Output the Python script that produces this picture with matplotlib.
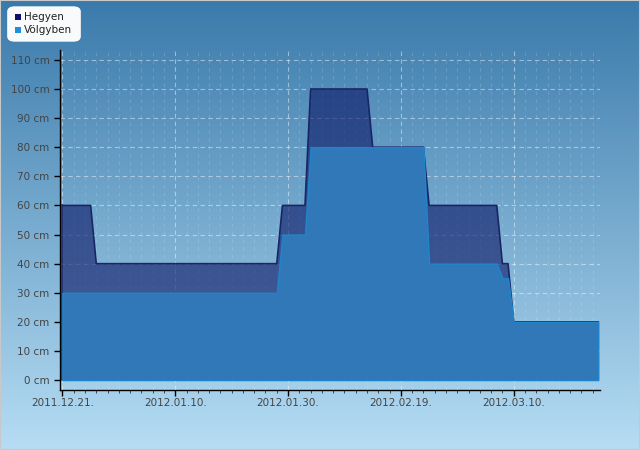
import matplotlib
matplotlib.use("Agg")
import matplotlib.pyplot as plt
import matplotlib.dates as mdates
from matplotlib.patches import FancyBboxPatch, Rectangle
import numpy as np
import datetime as dt

# breakpoints of the two series (cm)
hegyen_dates = ["2011-12-21", "2011-12-26", "2011-12-27", "2012-01-28", "2012-01-29",
                "2012-02-02", "2012-02-03", "2012-02-13", "2012-02-14", "2012-02-23",
                "2012-02-24", "2012-03-07", "2012-03-08", "2012-03-09", "2012-03-10",
                "2012-03-25"]
hegyen_cm = [60, 60, 40, 40, 60, 60, 100, 100, 80, 80, 60, 60, 40, 40, 20, 20]

volgy_dates = ["2011-12-21", "2012-01-28", "2012-01-29", "2012-02-02", "2012-02-03",
               "2012-02-23", "2012-02-24", "2012-03-07", "2012-03-08", "2012-03-09",
               "2012-03-10", "2012-03-25"]
volgy_cm = [30, 30, 50, 50, 80, 80, 40, 40, 35, 35, 20, 20]

tick_dates = ["2011-12-21", "2012-01-10", "2012-01-30", "2012-02-19", "2012-03-10"]
y_ticks = [0, 10, 20, 30, 40, 50, 60, 70, 80, 90, 100, 110]
series_names = ["Hegyen", "Völgyben"]


def to_num(dates):
    return [mdates.date2num(dt.datetime.strptime(d, "%Y-%m-%d")) for d in dates]


fig = plt.figure(figsize=(6.4, 4.5), dpi=100)

# background gradient over the whole figure
bg = fig.add_axes([0, 0, 1, 1], zorder=0)
top = np.array([58, 122, 171]) / 255
bot = np.array([182, 221, 244]) / 255
t = np.linspace(0, 1, 256)[:, None]
grad = (top * (1 - t) + bot * t)[:, None, :]
bg.imshow(grad, aspect="auto", extent=[0, 1, 0, 1])
bg.set_axis_off()
fig.patches.append(Rectangle((0, 0), 1, 1, transform=fig.transFigure, fill=False,
                             edgecolor="#c8c8c8", lw=1.5, zorder=10))

ax = fig.add_axes([60 / 640, 1 - 390 / 450, 540 / 640, 340 / 450], zorder=1)
ax.patch.set_alpha(0)

hx = to_num(hegyen_dates)
vx = to_num(volgy_dates)
ax.fill_between(hx, 0, hegyen_cm, facecolor="#0a1464", alpha=0.6, lw=0, zorder=2)
ax.plot(hx, hegyen_cm, color="#1a2566", lw=1.2, zorder=3)
ax.plot([hx[0], hx[0]], [0, hegyen_cm[0]], color="#1a2566", lw=1.2, zorder=3)
ax.fill_between(vx, 0, volgy_cm, facecolor="#3078b8", edgecolor="#1f86cc", lw=1, zorder=4)

x0 = mdates.date2num(dt.datetime(2011, 12, 21))
ax.set_xlim(x0 - 0.43, x0 + 95.3)
ax.set_ylim(-3.4, 113.4)

ax.set_yticks(y_ticks)
ax.set_yticklabels([f"{v} cm" for v in y_ticks])
ax.set_xticks(to_num(tick_dates))
ax.set_xticklabels([d.replace("-", ".") + "." for d in tick_dates])
ax.set_xticks(np.arange(x0 - 0.0, x0 + 95.5, 2), minor=True)

ax.tick_params(axis="both", labelsize=7.5, labelcolor="#444444", color="black",
               length=4, width=1, direction="out")
ax.tick_params(axis="x", pad=2)
ax.tick_params(axis="x", which="minor", length=2, width=0.6, color="#333333")
for s in ["top", "right"]:
    ax.spines[s].set_visible(False)
for s in ["left", "bottom"]:
    ax.spines[s].set_color("black")
    ax.spines[s].set_linewidth(1)

ax.grid(True, which="major", color="white", alpha=0.45, lw=0.8, ls=(0, (4, 3)), zorder=1)
ax.grid(True, which="minor", axis="x", color="white", alpha=0.15, lw=0.8, ls=(0, (3, 4)), zorder=1)
ax.set_axisbelow(True)

# legend box
fig.patches.append(FancyBboxPatch((11 / 640, 1 - 39 / 450), 66 / 640, 30 / 450,
                                  boxstyle="round,pad=0.006,rounding_size=0.012",
                                  transform=fig.transFigure, facecolor="white",
                                  edgecolor="none", alpha=0.97, zorder=5))
for i, (name, col) in enumerate(zip(series_names, ["#10106a", "#1e90d8"])):
    y = 1 - (17 + i * 13) / 450
    fig.patches.append(Rectangle((15 / 640, y - 3 / 450), 6 / 640, 6 / 450,
                                 transform=fig.transFigure, facecolor=col,
                                 edgecolor="none", zorder=6))
    fig.text(24 / 640, y, name, fontsize=7.5, color="#222222", va="center", ha="left", zorder=7)

fig.savefig("out.png", dpi=100)
